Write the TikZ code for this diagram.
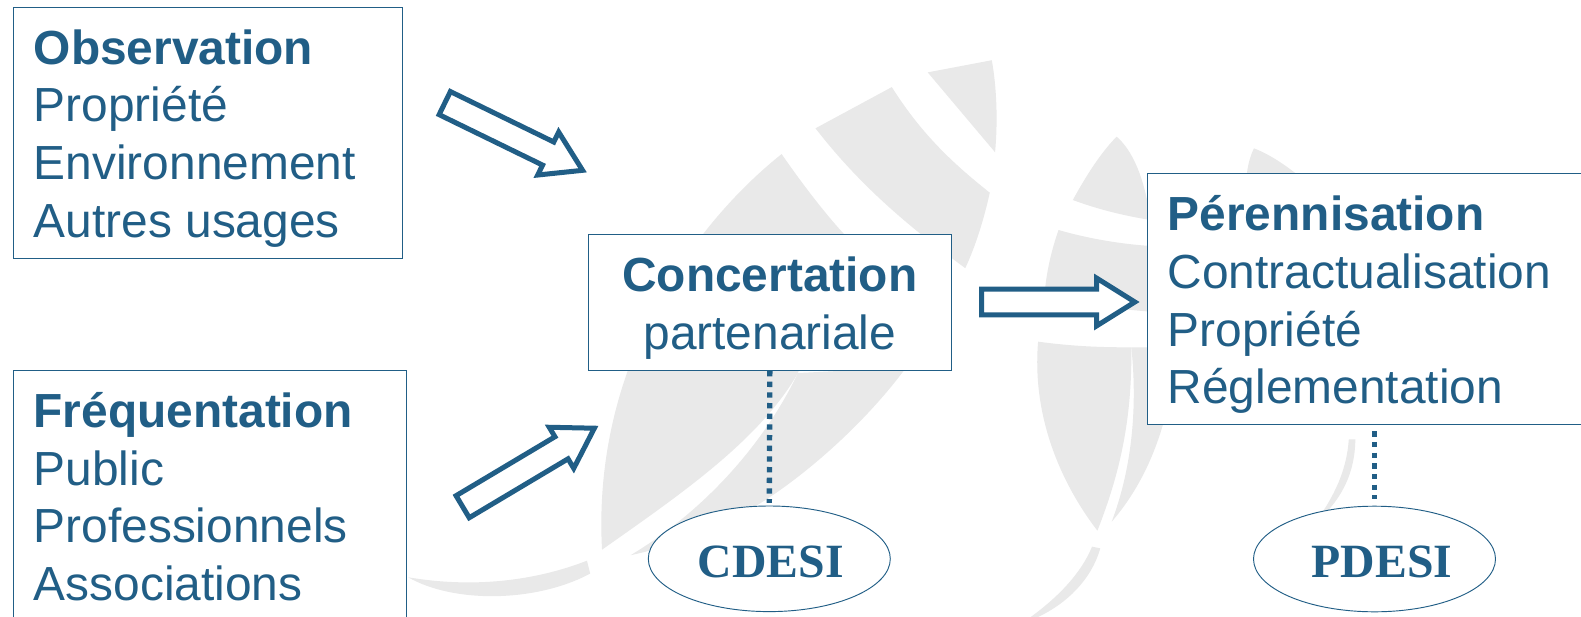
\documentclass[tikz,border=0pt]{standalone}
\usepackage{fontspec}
\setmainfont{Liberation Sans}
\newfontfamily\tnr{Liberation Serif}
\usetikzlibrary{shapes.geometric,shapes.arrows}
\definecolor{onf}{HTML}{215E86}
\definecolor{wm}{HTML}{E9E9E9}
\newcommand{\boxtext}[3]{\raisebox{#1}[0pt][0pt]{\parbox[t]{#2}{#3}}}
\newcommand{\shaftgauge}{\rule{0pt}{15.5pt}}
\tikzset{
  infobox/.style={draw=onf,fill=white,line width=0.75pt,rectangle,anchor=north west,inner xsep=15pt,inner ysep=0pt,text=onf,
    font=\fontsize{35.9pt}{43.3pt}\selectfont},
  orgellipse/.style={draw=onf,fill=white,line width=0.7pt,ellipse,inner sep=0pt,minimum width=181.5pt,minimum height=79.2pt,text=onf,
    font=\fontsize{35.8pt}{40pt}\selectfont\tnr\bfseries},
  bigarrow/.style={draw=onf,fill=white,line width=3.75pt,single arrow,anchor=tail,inner sep=0pt,minimum height=115pt,
    single arrow head extend=8.3pt,single arrow tip angle=64},
  dotline/.style={draw=onf,line width=4pt,dash pattern=on 4pt off 4pt},
  wmark/.style={fill=wm,draw=none}
}
\begin{document}
\begin{tikzpicture}[x=0.75pt,y=-0.75pt]
\useasboundingbox (0,0) rectangle (1581,617);
\clip (0,0) rectangle (1581,617);
\fill[white] (0,0) rectangle (1581,617);
% watermark, left leaf
\begin{scope}[xshift=300pt,yshift=-30pt,x=0.3061pt,y=-0.2760pt]
\fill[wmark] (1293,88) -- (1450,55) .. controls (1462,130) and (1465,220) .. (1458,305) -- cycle;
\fill[wmark] (1018,240) -- (1205,128) .. controls (1280,260) and (1360,340) .. (1445,415) .. controls (1430,490) and (1410,560) .. (1385,620) .. controls (1250,510) and (1130,400) .. (1018,240) -- cycle;
\fill[wmark] (935,310) .. controls (720,500) and (470,880) .. (495,1385) .. controls (680,1240) and (880,1090) .. (975,905) -- (1090,530) .. controls (1040,470) and (985,390) .. (935,310) -- cycle;
\fill[wmark] (975,905) -- (1240,890) .. controls (1120,1070) and (950,1220) .. (850,1280) .. controls (750,1340) and (650,1380) .. (565,1400) .. controls (760,1270) and (900,1080) .. (975,905) -- cycle;
\fill[wmark] (20,1460) .. controls (180,1490) and (330,1470) .. (458,1415) -- (466,1450) .. controls (330,1530) and (130,1530) .. (20,1460) -- cycle;
\end{scope}
% watermark, right leaf
\begin{scope}[xshift=705pt,yshift=-90pt,x=0.3066pt,y=-0.25pt]
\fill[wmark] (325,240) .. controls (365,150) and (400,90) .. (432,50) .. controls (470,90) and (500,170) .. (515,300) .. controls (440,285) and (380,265) .. (325,240) -- cycle;
\fill[wmark] (750,170) .. controls (752,140) and (758,110) .. (768,85) .. controls (810,105) and (850,140) .. (880,170) -- cycle;
\fill[wmark] (290,330) .. controls (360,355) and (440,372) .. (515,378) -- (515,575) .. controls (420,565) and (340,555) .. (255,540) .. controls (258,470) and (270,400) .. (290,330) -- cycle;
\fill[wmark] (240,665) .. controls (330,680) and (400,682) .. (468,682) .. controls (470,900) and (440,1060) .. (385,1232) .. controls (290,1080) and (225,880) .. (240,665) -- cycle;
\fill[wmark] (468,682) -- (520,682) -- (545,915) .. controls (520,1020) and (480,1120) .. (420,1205) .. controls (465,1060) and (485,880) .. (468,682) -- cycle;
\fill[wmark] (372,1280) -- (392,1285) .. controls (370,1380) and (310,1450) .. (240,1491) -- (222,1491) .. controls (290,1430) and (345,1360) .. (372,1280) -- cycle;
\fill[wmark] (1000,958) -- (1016,958) .. controls (1015,1070) and (975,1150) .. (915,1212) .. controls (965,1130) and (995,1050) .. (1000,958) -- cycle;
\end{scope}
% boxes
\node[infobox,minimum width=292pt,minimum height=187.9pt] (obs) at (13,7)
  {\boxtext{51.4pt}{261.5pt}{\textbf{Observation}\\Propriété\\Environnement\\Autres usages}};
\node[infobox,minimum width=294.75pt,minimum height=187.5pt] (freq) at (13,370)
  {\boxtext{51.1pt}{264.5pt}{\textbf{Fréquentation}\\Public\\Professionnels\\Associations}};
\node[infobox,minimum width=272pt,minimum height=102pt] (conc) at (588,234)
  {\boxtext{8.2pt}{240pt}{\centering\textbf{Concertation}\\partenariale}};
\node[infobox,minimum width=345pt,minimum height=188.25pt] (peren) at (1147.3,173.3)
  {\boxtext{51.5pt}{316pt}{\textbf{Pérennisation}\\Contractualisation\\Propriété\\Réglementation}};
% ellipses
\node[orgellipse] (cdesi) at (769.3,558.8) {\kern2.25pt\raisebox{-14pt}[0pt][0pt]{CDESI}};
\node[orgellipse] (pdesi) at (1374.5,559) {\kern11.25pt\raisebox{-13.8pt}[0pt][0pt]{PDESI}};
% dotted links
\draw[dotline,shorten >=2pt] (conc.south) -- (cdesi.north);
\draw[dotline,shorten <=4.5pt,shorten >=5pt] (pdesi.north |- peren.south) -- (pdesi.north);
% block arrows
\coordinate (a1t) at (442.5,102);
\coordinate (a2t) at (460.5,508);
\coordinate (a3t) at (979,302);
\node[bigarrow,rotate=-26] (arrowobs) at (a1t) {\shaftgauge};
\node[bigarrow,rotate=30.8] (arrowfreq) at (a2t) {\shaftgauge};
\node[bigarrow] (arrowconc) at (a3t) {\shaftgauge};
\end{tikzpicture}
\end{document}
